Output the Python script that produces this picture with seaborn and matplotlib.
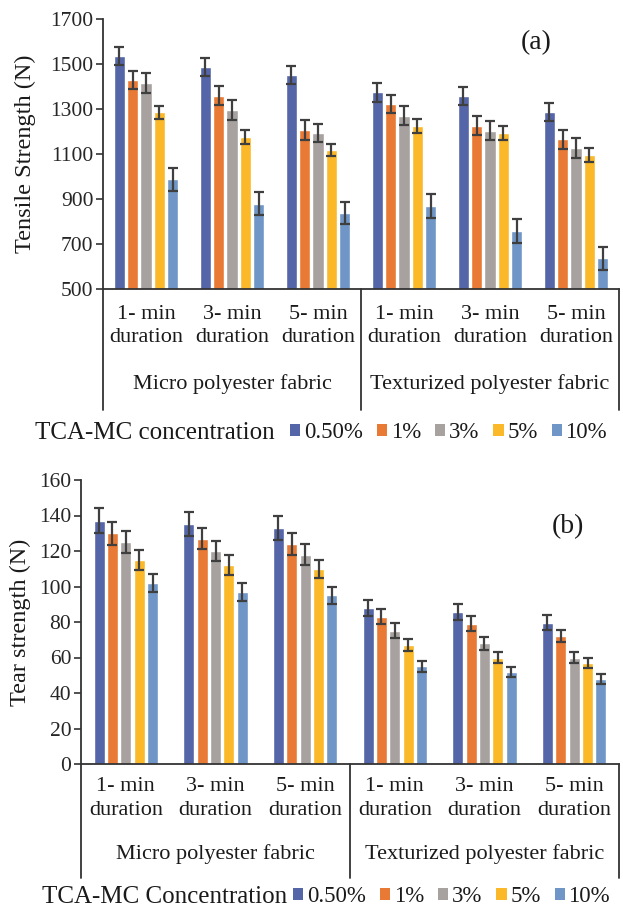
import numpy as np
import pandas as pd
import matplotlib
matplotlib.use("Agg")
import matplotlib.pyplot as plt
import matplotlib.transforms as mtransforms
from matplotlib.patches import Patch
import seaborn as sns

# ---------------- data ----------------
durations = ["1- min\nduration", "3- min\nduration", "5- min\nduration",
             "1- min\nduration", "3- min\nduration", "5- min\nduration"]
group_keys = ["M1", "M3", "M5", "T1", "T3", "T5"]
fabrics = ["Micro polyester fabric", "Texturized polyester fabric"]
concentrations = ["0.50%", "1%", "3%", "5%", "10%"]

tensile_050 = [1535, 1486, 1452, 1374, 1357, 1287]
tensile_1 = [1428, 1360, 1207, 1322, 1225, 1166]
tensile_3 = [1416, 1297, 1193, 1270, 1204, 1125]
tensile_5 = [1285, 1175, 1118, 1225, 1193, 1095]
tensile_10 = [988, 879, 837, 868, 757, 636]
tensile_err_050 = [40, 40, 39, 41, 40, 39]
tensile_err_1 = [41, 42, 43, 41, 42, 42]
tensile_err_3 = [44, 45, 41, 43, 42, 44]
tensile_err_5 = [28, 30, 28, 32, 30, 30]
tensile_err_10 = [52, 51, 50, 53, 52, 50]

tear_050 = [137, 135, 133, 88, 85.6, 79.6]
tear_1 = [130, 127, 124, 83, 79, 72]
tear_3 = [125, 120, 118, 75, 68, 60]
tear_5 = [115, 112, 110, 67, 60, 57]
tear_10 = [102, 97, 95, 55, 52, 48]
tear_err_050 = [7, 6.8, 6.7, 4.4, 4.5, 4.1]
tear_err_1 = [6.5, 6, 6.3, 4.2, 4.2, 3.5]
tear_err_3 = [6.4, 5.5, 5.7, 4.2, 3.6, 3.3]
tear_err_5 = [5.8, 5.7, 5.2, 3.3, 3.2, 3.0]
tear_err_10 = [5, 5, 5, 3.1, 2.8, 2.8]

colors = ["#5566A8", "#E87A35", "#A7A2A0", "#FBB829", "#6F96C6"]

tensile_vals = [tensile_050, tensile_1, tensile_3, tensile_5, tensile_10]
tensile_errs = [tensile_err_050, tensile_err_1, tensile_err_3, tensile_err_5, tensile_err_10]
tear_vals = [tear_050, tear_1, tear_3, tear_5, tear_10]
tear_errs = [tear_err_050, tear_err_1, tear_err_3, tear_err_5, tear_err_10]


def long_df(vals):
    rows = []
    for c, series in zip(concentrations, vals):
        for g, v in zip(group_keys, series):
            rows.append({"group": g, "conc": c, "value": v})
    return pd.DataFrame(rows)


sns.set_theme(style="white")
plt.rcParams["font.family"] = ["Liberation Serif", "DejaVu Serif"]
plt.rcParams["text.color"] = "#1a1a1a"

W, H = 623, 911
fig = plt.figure(figsize=(W / 100, H / 100), dpi=100)
INK = "#333333"


def make_panel(rect, vals, errs, ylim, yticks, ylabel, tag, tag_xy, width,
               line_depth, tick_y, group_y, ylabel_x):
    ax = fig.add_axes(rect)
    df = long_df(vals)
    sns.barplot(data=df, x="group", y="value", hue="conc", order=group_keys,
                hue_order=concentrations, palette=colors, width=width, gap=0.18,
                errorbar=None, ax=ax, legend=False, saturation=1)
    for cont, err in zip(ax.containers, errs):
        xs = [b.get_x() + b.get_width() / 2 for b in cont]
        ys = [b.get_height() for b in cont]
        ax.errorbar(xs, ys, yerr=err, fmt="none", ecolor="#3f3f3f",
                    elinewidth=1.6, capsize=3.6, capthick=1.6, zorder=5)
    ax.set_xlim(-0.5, 5.5)
    ax.set_ylim(*ylim)
    ax.set_yticks(yticks)
    ax.tick_params(axis="y", labelsize=15.5, direction="out", length=5,
                   width=1.2, color=INK, pad=2, left=True)
    ax.set_xticks([])
    ax.set_xlabel("")
    ax.set_ylabel("")
    for s in ["top", "right"]:
        ax.spines[s].set_visible(False)
    for s in ["left", "bottom"]:
        ax.spines[s].set_color(INK)
        ax.spines[s].set_linewidth(1.3)
    trans = mtransforms.blended_transform_factory(ax.transData, ax.transAxes)
    for xv in [-0.5, 2.5, 5.5]:
        ax.plot([xv, xv], [0, -line_depth], transform=trans, color=INK,
                lw=1.3, clip_on=False)
    for i, lab in enumerate(durations):
        ax.text(i, tick_y, lab, transform=trans, ha="center", va="center",
                fontsize=16, linespacing=1.35)
    for k, fab in enumerate(fabrics):
        ax.text(1 + 3 * k, group_y, fab, transform=trans, ha="center",
                va="center", fontsize=16)
    fig.text(ylabel_x, rect[1] + rect[3] / 2, ylabel,
             rotation=90, ha="center", va="center", fontsize=17.5)
    fig.text(tag_xy[0], tag_xy[1], tag, ha="center", va="center", fontsize=20)
    return ax


# top panel: axes px left 103, right 619, top 19, bottom 289
ax1 = make_panel([103 / W, 1 - 289 / H, (619 - 103) / W, (289 - 19) / H],
                 tensile_vals, tensile_errs, (500, 1700),
                 list(range(500, 1701, 200)), "Tensile Strength (N)", "(a)",
                 (536 / W, 1 - 43 / H), 0.78, 0.448, -0.137, -0.352,
                 25 / W)
# bottom panel: left 81, right 619, top 480, bottom 764
ax2 = make_panel([81 / W, 1 - 764 / H, (619 - 81) / W, (764 - 480) / H],
                 tear_vals, tear_errs, (0, 160), list(range(0, 161, 20)),
                 "Tear strength (N)", "(b)", (568 / W, 1 - 527 / H),
                 0.745, 0.40, -0.12, -0.317, 20 / W)

handles = [Patch(facecolor=c, edgecolor="none", label=l)
           for c, l in zip(colors, concentrations)]


def add_legend(title, y_px, title_x_px, leg_x_px):
    fig.text(title_x_px / W, 1 - y_px / H, title, ha="left", va="center",
             fontsize=18)
    fig.legend(handles=handles, loc="center left",
               bbox_to_anchor=(leg_x_px / W, 1 - y_px / H), ncol=5,
               frameon=False, fontsize=16.5, handlelength=0.45,
               handleheight=0.45, handletextpad=0.15, columnspacing=0.62,
               borderpad=0, borderaxespad=0)


add_legend("TCA-MC concentration", 433, 35, 290)
add_legend("TCA-MC Concentration", 897, 42, 293)

fig.savefig("out.png", dpi=100)
